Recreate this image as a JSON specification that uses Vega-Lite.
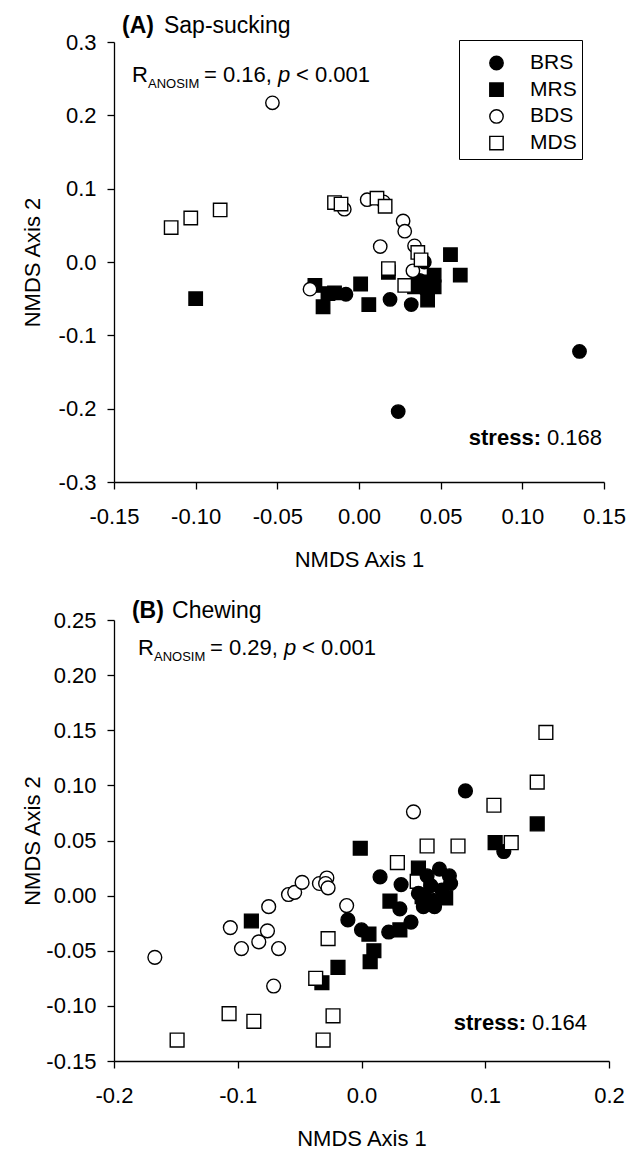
{
  "$schema": "https://vega.github.io/schema/vega-lite/v6.json",
  "autosize": {"type": "none"},
  "padding": {"left": 114, "top": 42, "right": 517, "bottom": 1109},
  "bounds": "flush",
  "spacing": 138,
  "background": "white",
  "datasets": {
    "sap": [
      {"group": "BRS", "x": 0.135, "y": -0.122},
      {"group": "BRS", "x": 0.024, "y": -0.204},
      {"group": "BRS", "x": -0.008, "y": -0.044},
      {"group": "BRS", "x": 0.019, "y": -0.051},
      {"group": "BRS", "x": 0.032, "y": -0.058},
      {"group": "BRS", "x": 0.040, "y": 0.000},
      {"group": "BRS", "x": 0.035, "y": -0.029},
      {"group": "BRS", "x": 0.040, "y": -0.036},
      {"group": "BRS", "x": 0.037, "y": -0.025},
      {"group": "MRS", "x": -0.100, "y": -0.050},
      {"group": "MRS", "x": -0.027, "y": -0.032},
      {"group": "MRS", "x": -0.022, "y": -0.061},
      {"group": "MRS", "x": -0.019, "y": -0.043},
      {"group": "MRS", "x": -0.015, "y": -0.042},
      {"group": "MRS", "x": 0.001, "y": -0.030},
      {"group": "MRS", "x": 0.006, "y": -0.058},
      {"group": "MRS", "x": 0.018, "y": -0.014},
      {"group": "MRS", "x": 0.034, "y": -0.034},
      {"group": "MRS", "x": 0.043, "y": -0.027},
      {"group": "MRS", "x": 0.046, "y": -0.018},
      {"group": "MRS", "x": 0.046, "y": -0.034},
      {"group": "MRS", "x": 0.042, "y": -0.052},
      {"group": "MRS", "x": 0.056, "y": 0.010},
      {"group": "MRS", "x": 0.062, "y": -0.018},
      {"group": "BDS", "x": -0.053, "y": 0.217},
      {"group": "BDS", "x": -0.009, "y": 0.072},
      {"group": "BDS", "x": 0.005, "y": 0.085},
      {"group": "BDS", "x": 0.015, "y": 0.082},
      {"group": "BDS", "x": 0.027, "y": 0.056},
      {"group": "BDS", "x": 0.028, "y": 0.042},
      {"group": "BDS", "x": 0.013, "y": 0.021},
      {"group": "BDS", "x": 0.034, "y": 0.022},
      {"group": "BDS", "x": 0.033, "y": -0.012},
      {"group": "BDS", "x": -0.030, "y": -0.037},
      {"group": "MDS", "x": -0.115, "y": 0.047},
      {"group": "MDS", "x": -0.103, "y": 0.060},
      {"group": "MDS", "x": -0.085, "y": 0.071},
      {"group": "MDS", "x": -0.015, "y": 0.081},
      {"group": "MDS", "x": -0.011, "y": 0.079},
      {"group": "MDS", "x": 0.011, "y": 0.087},
      {"group": "MDS", "x": 0.016, "y": 0.076},
      {"group": "MDS", "x": 0.036, "y": 0.013},
      {"group": "MDS", "x": 0.038, "y": 0.003},
      {"group": "MDS", "x": 0.018, "y": -0.009},
      {"group": "MDS", "x": 0.028, "y": -0.032}
    ],
    "chew": [
      {"group": "MDS", "x": 0.045, "y": 0.013},
      {"group": "BRS", "x": 0.084, "y": 0.095},
      {"group": "BRS", "x": 0.115, "y": 0.040},
      {"group": "BRS", "x": 0.015, "y": 0.017},
      {"group": "BRS", "x": 0.032, "y": 0.010},
      {"group": "BRS", "x": 0.063, "y": 0.024},
      {"group": "BRS", "x": 0.071, "y": 0.018},
      {"group": "BRS", "x": 0.072, "y": 0.011},
      {"group": "BRS", "x": 0.053, "y": 0.018},
      {"group": "BRS", "x": 0.056, "y": 0.009},
      {"group": "BRS", "x": 0.046, "y": 0.002},
      {"group": "BRS", "x": 0.057, "y": -0.004},
      {"group": "BRS", "x": 0.050, "y": -0.010},
      {"group": "BRS", "x": 0.059, "y": -0.010},
      {"group": "BRS", "x": 0.031, "y": -0.012},
      {"group": "BRS", "x": -0.011, "y": -0.022},
      {"group": "BRS", "x": 0.000, "y": -0.031},
      {"group": "BRS", "x": 0.022, "y": -0.033},
      {"group": "BRS", "x": 0.040, "y": -0.024},
      {"group": "BRS", "x": 0.065, "y": 0.005},
      {"group": "MRS", "x": -0.001, "y": 0.043},
      {"group": "MRS", "x": 0.142, "y": 0.065},
      {"group": "MRS", "x": 0.108, "y": 0.048},
      {"group": "MRS", "x": 0.046, "y": 0.025},
      {"group": "MRS", "x": 0.068, "y": -0.002},
      {"group": "MRS", "x": 0.049, "y": -0.001},
      {"group": "MRS", "x": 0.023, "y": -0.005},
      {"group": "MRS", "x": 0.006, "y": -0.035},
      {"group": "MRS", "x": 0.031, "y": -0.031},
      {"group": "MRS", "x": 0.010, "y": -0.050},
      {"group": "MRS", "x": 0.007, "y": -0.060},
      {"group": "MRS", "x": -0.019, "y": -0.065},
      {"group": "MRS", "x": -0.032, "y": -0.079},
      {"group": "MRS", "x": -0.089, "y": -0.023},
      {"group": "BDS", "x": -0.167, "y": -0.056},
      {"group": "BDS", "x": -0.106, "y": -0.029},
      {"group": "BDS", "x": -0.075, "y": -0.010},
      {"group": "BDS", "x": -0.059, "y": 0.001},
      {"group": "BDS", "x": -0.054, "y": 0.003},
      {"group": "BDS", "x": -0.048, "y": 0.012},
      {"group": "BDS", "x": -0.034, "y": 0.011},
      {"group": "BDS", "x": -0.028, "y": 0.016},
      {"group": "BDS", "x": -0.029, "y": 0.011},
      {"group": "BDS", "x": -0.027, "y": 0.007},
      {"group": "BDS", "x": -0.012, "y": -0.009},
      {"group": "BDS", "x": -0.076, "y": -0.032},
      {"group": "BDS", "x": -0.083, "y": -0.042},
      {"group": "BDS", "x": -0.097, "y": -0.048},
      {"group": "BDS", "x": -0.067, "y": -0.048},
      {"group": "BDS", "x": -0.071, "y": -0.082},
      {"group": "BDS", "x": 0.042, "y": 0.076},
      {"group": "MDS", "x": 0.149, "y": 0.148},
      {"group": "MDS", "x": 0.142, "y": 0.103},
      {"group": "MDS", "x": 0.107, "y": 0.082},
      {"group": "MDS", "x": 0.121, "y": 0.048},
      {"group": "MDS", "x": 0.078, "y": 0.045},
      {"group": "MDS", "x": 0.053, "y": 0.045},
      {"group": "MDS", "x": 0.029, "y": 0.030},
      {"group": "MDS", "x": -0.027, "y": -0.039},
      {"group": "MDS", "x": -0.037, "y": -0.075},
      {"group": "MDS", "x": -0.107, "y": -0.107},
      {"group": "MDS", "x": -0.087, "y": -0.114},
      {"group": "MDS", "x": -0.149, "y": -0.131},
      {"group": "MDS", "x": -0.023, "y": -0.109},
      {"group": "MDS", "x": -0.031, "y": -0.131}
    ]
  },
  "resolve": {"legend": {"fill": "independent", "shape": "independent", "stroke": "independent"}},
  "vconcat": [
    {
      "width": 490,
      "height": 440,
      "layer": [
        {
          "data": {"name": "sap"},
          "mark": {"type": "point", "size": 180, "opacity": 1, "strokeWidth": 1.4},
          "encoding": {
            "x": {"field": "x", "type": "quantitative", "scale": {"domain": [-0.15, 0.15], "nice": false, "zero": false},
                  "axis": {"values": [-0.15, -0.1, -0.05, 0, 0.05, 0.1, 0.15], "format": ".2f", "title": "NMDS Axis 1"}},
            "y": {"field": "y", "type": "quantitative", "scale": {"domain": [-0.3, 0.3], "nice": false, "zero": false},
                  "axis": {"values": [-0.3, -0.2, -0.1, 0, 0.1, 0.2, 0.3], "format": ".1f", "title": "NMDS Axis 2"}},
            "fill": {"field": "group", "type": "nominal", "scale": {"domain": ["BRS", "MRS", "BDS", "MDS"], "range": ["black", "black", "white", "white"]},
                     "legend": {"title": " ", "titleFontSize": 4, "titlePadding": 3.5, "orient": "none", "legendX": 345, "legendY": -2, "padding": 5, "strokeColor": "black", "fillColor": "white", "symbolOffset": 22, "labelOffset": 23, "rowPadding": 4.7, "symbolSize": 180, "symbolStrokeWidth": 1.4, "labelFontSize": 21, "labelColor": "black", "cornerRadius": 0}},
            "shape": {"field": "group", "type": "nominal", "scale": {"domain": ["BRS", "MRS", "BDS", "MDS"], "range": ["circle", "square", "circle", "square"]},
                     "legend": {"title": " ", "titleFontSize": 4, "titlePadding": 3.5, "orient": "none", "legendX": 345, "legendY": -2, "padding": 5, "strokeColor": "black", "fillColor": "white", "symbolOffset": 22, "labelOffset": 23, "rowPadding": 4.7, "symbolSize": 180, "symbolStrokeWidth": 1.4, "labelFontSize": 21, "labelColor": "black", "cornerRadius": 0}},
            "stroke": {"field": "group", "type": "nominal", "scale": {"domain": ["BRS", "MRS", "BDS", "MDS"], "range": ["black", "black", "black", "black"]},
                     "legend": {"title": " ", "titleFontSize": 4, "titlePadding": 3.5, "orient": "none", "legendX": 345, "legendY": -2, "padding": 5, "strokeColor": "black", "fillColor": "white", "symbolOffset": 22, "labelOffset": 23, "rowPadding": 4.7, "symbolSize": 180, "symbolStrokeWidth": 1.4, "labelFontSize": 21, "labelColor": "black", "cornerRadius": 0}}
          }
        },
        {
          "data": {"values": [{}]},
          "mark": {"type": "text", "text": "(A)", "align": "left", "baseline": "alphabetic", "fontSize": 23, "fontWeight": "bold", "color": "black"},
          "encoding": {
            "x": {"datum": -0.1451, "type": "quantitative"},
            "y": {"datum": 0.3123, "type": "quantitative"}
          }
        },
        {
          "data": {"values": [{}]},
          "mark": {"type": "text", "text": "Sap-sucking", "align": "left", "baseline": "alphabetic", "fontSize": 23, "color": "black"},
          "encoding": {
            "x": {"datum": -0.1194, "type": "quantitative"},
            "y": {"datum": 0.3123, "type": "quantitative"}
          }
        },
        {
          "data": {"values": [{}]},
          "mark": {"type": "text", "text": "R", "align": "left", "baseline": "alphabetic", "fontSize": 22, "color": "black"},
          "encoding": {
            "x": {"datum": -0.139, "type": "quantitative"},
            "y": {"datum": 0.2455, "type": "quantitative"}
          }
        },
        {
          "data": {"values": [{}]},
          "mark": {"type": "text", "text": "ANOSIM", "align": "left", "baseline": "alphabetic", "fontSize": 13, "color": "black"},
          "encoding": {
            "x": {"datum": -0.1292, "type": "quantitative"},
            "y": {"datum": 0.2373, "type": "quantitative"}
          }
        },
        {
          "data": {"values": [{}]},
          "mark": {"type": "text", "text": "= 0.16,", "align": "left", "baseline": "alphabetic", "fontSize": 22, "color": "black"},
          "encoding": {
            "x": {"datum": -0.0949, "type": "quantitative"},
            "y": {"datum": 0.2455, "type": "quantitative"}
          }
        },
        {
          "data": {"values": [{}]},
          "mark": {"type": "text", "text": "p", "align": "left", "baseline": "alphabetic", "fontSize": 22, "fontStyle": "italic", "color": "black"},
          "encoding": {
            "x": {"datum": -0.0496, "type": "quantitative"},
            "y": {"datum": 0.2455, "type": "quantitative"}
          }
        },
        {
          "data": {"values": [{}]},
          "mark": {"type": "text", "text": "< 0.001", "align": "left", "baseline": "alphabetic", "fontSize": 22, "color": "black"},
          "encoding": {
            "x": {"datum": -0.0386, "type": "quantitative"},
            "y": {"datum": 0.2455, "type": "quantitative"}
          }
        },
        {
          "data": {"values": [{}]},
          "mark": {"type": "text", "text": "stress:", "align": "right", "baseline": "alphabetic", "fontSize": 22, "fontWeight": "bold", "color": "black"},
          "encoding": {
            "x": {"datum": 0.1114, "type": "quantitative"},
            "y": {"datum": -0.2496, "type": "quantitative"}
          }
        },
        {
          "data": {"values": [{}]},
          "mark": {"type": "text", "text": "0.168", "align": "right", "baseline": "alphabetic", "fontSize": 22, "color": "black"},
          "encoding": {
            "x": {"datum": 0.1488, "type": "quantitative"},
            "y": {"datum": -0.2496, "type": "quantitative"}
          }
        }
      ]
    },
    {
      "width": 495,
      "height": 441,
      "layer": [
        {
          "data": {"name": "chew"},
          "mark": {"type": "point", "size": 190, "opacity": 1, "strokeWidth": 1.4},
          "encoding": {
            "x": {"field": "x", "type": "quantitative", "scale": {"domain": [-0.2, 0.2], "nice": false, "zero": false},
                  "axis": {"values": [-0.2, -0.1, 0, 0.1, 0.2], "format": ".1f", "title": "NMDS Axis 1"}},
            "y": {"field": "y", "type": "quantitative", "scale": {"domain": [-0.15, 0.25], "nice": false, "zero": false},
                  "axis": {"values": [-0.15, -0.1, -0.05, 0, 0.05, 0.1, 0.15, 0.2, 0.25], "format": ".2f", "title": "NMDS Axis 2"}},
            "fill": {"field": "group", "type": "nominal", "scale": {"domain": ["BRS", "MRS", "BDS", "MDS"], "range": ["black", "black", "white", "white"]}, "legend": null},
            "shape": {"field": "group", "type": "nominal", "scale": {"domain": ["BRS", "MRS", "BDS", "MDS"], "range": ["circle", "square", "circle", "square"]}, "legend": null},
            "stroke": {"field": "group", "type": "nominal", "scale": {"domain": ["BRS", "MRS", "BDS", "MDS"], "range": ["black", "black", "black", "black"]}, "legend": null}
          }
        },
        {
          "data": {"values": [{}]},
          "mark": {"type": "text", "text": "(B)", "align": "left", "baseline": "alphabetic", "fontSize": 23, "fontWeight": "bold", "color": "black"},
          "encoding": {
            "x": {"datum": -0.1855, "type": "quantitative"},
            "y": {"datum": 0.2518, "type": "quantitative"}
          }
        },
        {
          "data": {"values": [{}]},
          "mark": {"type": "text", "text": "Chewing", "align": "left", "baseline": "alphabetic", "fontSize": 23, "color": "black"},
          "encoding": {
            "x": {"datum": -0.1531, "type": "quantitative"},
            "y": {"datum": 0.2518, "type": "quantitative"}
          }
        },
        {
          "data": {"values": [{}]},
          "mark": {"type": "text", "text": "R", "align": "left", "baseline": "alphabetic", "fontSize": 22, "color": "black"},
          "encoding": {
            "x": {"datum": -0.1806, "type": "quantitative"},
            "y": {"datum": 0.2183, "type": "quantitative"}
          }
        },
        {
          "data": {"values": [{}]},
          "mark": {"type": "text", "text": "ANOSIM", "align": "left", "baseline": "alphabetic", "fontSize": 13, "color": "black"},
          "encoding": {
            "x": {"datum": -0.1677, "type": "quantitative"},
            "y": {"datum": 0.2128, "type": "quantitative"}
          }
        },
        {
          "data": {"values": [{}]},
          "mark": {"type": "text", "text": "= 0.29,", "align": "left", "baseline": "alphabetic", "fontSize": 22, "color": "black"},
          "encoding": {
            "x": {"datum": -0.1224, "type": "quantitative"},
            "y": {"datum": 0.2183, "type": "quantitative"}
          }
        },
        {
          "data": {"values": [{}]},
          "mark": {"type": "text", "text": "p", "align": "left", "baseline": "alphabetic", "fontSize": 22, "fontStyle": "italic", "color": "black"},
          "encoding": {
            "x": {"datum": -0.0626, "type": "quantitative"},
            "y": {"datum": 0.2183, "type": "quantitative"}
          }
        },
        {
          "data": {"values": [{}]},
          "mark": {"type": "text", "text": "< 0.001", "align": "left", "baseline": "alphabetic", "fontSize": 22, "color": "black"},
          "encoding": {
            "x": {"datum": -0.0481, "type": "quantitative"},
            "y": {"datum": 0.2183, "type": "quantitative"}
          }
        },
        {
          "data": {"values": [{}]},
          "mark": {"type": "text", "text": "stress:", "align": "right", "baseline": "alphabetic", "fontSize": 22, "fontWeight": "bold", "color": "black"},
          "encoding": {
            "x": {"datum": 0.1329, "type": "quantitative"},
            "y": {"datum": -0.1219, "type": "quantitative"}
          }
        },
        {
          "data": {"values": [{}]},
          "mark": {"type": "text", "text": "0.164", "align": "right", "baseline": "alphabetic", "fontSize": 22, "color": "black"},
          "encoding": {
            "x": {"datum": 0.1822, "type": "quantitative"},
            "y": {"datum": -0.1219, "type": "quantitative"}
          }
        }
      ]
    }
  ],
  "config": {
    "font": "Liberation Sans",
    "view": {"stroke": null},
    "locale": {"number": {"decimal": ".", "thousands": ",", "grouping": [3], "currency": ["$", ""], "minus": "-"}},
    "axis": {
      "grid": false,
      "domainColor": "black",
      "tickColor": "black",
      "labelColor": "black",
      "titleColor": "black",
      "labelFont": "Liberation Sans",
      "titleFont": "Liberation Sans",
      "labelFontSize": 22,
      "titleFontSize": 22,
      "titleFontWeight": "normal",
      "tickSize": 7,
      "domainWidth": 1.3,
      "tickWidth": 1.3,
      "labelFlush": false,
      "labelOverlap": false
    },
    "axisX": {"labelPadding": 17, "titlePadding": 22},
    "axisY": {"labelPadding": 11, "titleX": -82, "titleBaseline": "middle"},
    "legend": {"labelFont": "Liberation Sans"}
  }
}
